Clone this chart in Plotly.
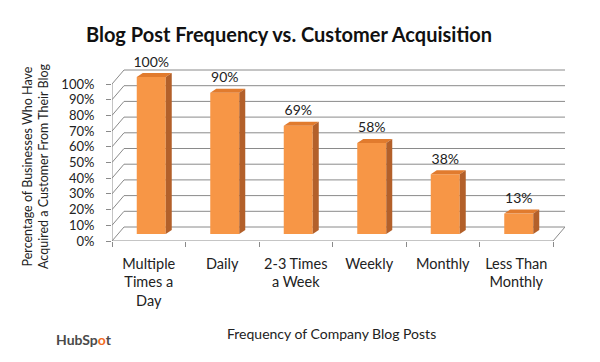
import plotly.graph_objects as go

# ---- data ----
categories = ["Multiple<br>Times a<br>Day", "Daily", "2-3 Times<br>a Week",
              "Weekly", "Monthly", "Less Than<br>Monthly"]
values = [100, 90, 69, 58, 38, 13]
y_ticks = [0, 10, 20, 30, 40, 50, 60, 70, 80, 90, 100]
y_tick_labels = [f"{v}%" for v in y_ticks]
title_text = "Blog Post Frequency vs. Customer Acquisition"
x_title = "Frequency of Company Blog Posts"
y_title = "Percentage of Businesses Who Have<br>Acquired a Customer From Their Blog"

# ---- geometry / style (page pixel coords; body has an 8px margin) ----
OFF = 8
W, H = 600 - 2 * OFF, 362 - 2 * OFF
PLOT_L, PLOT_R, PLOT_T, PLOT_B = 112, 565, 55, 241   # page coords
ML, MT = PLOT_L - OFF, PLOT_T - OFF
MR, MB = W - (PLOT_R - OFF), H - (PLOT_B - OFF)
PW, PH = PLOT_R - PLOT_L, PLOT_B - PLOT_T
PX_X = 73.5          # pixels per category
PX_Y = 1.57          # pixels per percent
DX, DY = 12 / PX_X, 14 / PX_Y          # depth of the 3D box
BX, BY = 2.5 / PX_X, 7 / PX_Y          # bar offset inside box
BW = 29 / PX_X
SX, SY = 6 / PX_X, 4 / PX_Y            # bar depth
FONT = "Lato"
GRID = "#8a8a8a"
FRONT, TOP, SIDE = "#F79646", "#E17B2E", "#B3602A"


def px(xp):
    return (xp - PLOT_L) / PW


def py(yp):
    return (PLOT_B - yp) / PH


n = len(categories)
xs = list(range(n))
x_lo, x_hi = -0.5, n - 0.5

fig = go.Figure()

# front faces
fig.add_trace(go.Bar(x=[x + BX for x in xs], y=values, base=BY, width=BW,
                     marker=dict(color=FRONT, line=dict(width=0)),
                     hoverinfo="skip"))

# top and side faces
tx, ty, sx, sy = [], [], [], []
for x, v in zip(xs, values):
    x0 = x + BX - BW / 2
    x1 = x + BX + BW / 2
    top = BY + v
    tx += [x0, x0 + SX, x1 + SX, x1, x0, None]
    ty += [top, top + SY, top + SY, top, top, None]
    sx += [x1, x1, x1 + SX, x1 + SX, x1, None]
    sy += [BY, top, top + SY, BY + SY, BY, None]
fig.add_trace(go.Scatter(x=tx, y=ty, fill="toself", fillcolor=TOP, mode="lines",
                         line=dict(width=0, color=TOP), hoverinfo="skip"))
fig.add_trace(go.Scatter(x=sx, y=sy, fill="toself", fillcolor=SIDE, mode="lines",
                         line=dict(width=0, color=SIDE), hoverinfo="skip"))

# value labels
fig.add_trace(go.Scatter(x=[x + BX for x in xs], y=[BY + v + 14 / PX_Y for v in values],
                         mode="text", text=[f"{v}%" for v in values],
                         textposition="middle center",
                         textfont=dict(family=FONT, size=14, color="#222"),
                         hoverinfo="skip", cliponaxis=False))

shapes = []
for v in y_ticks:
    shapes.append(dict(type="line", xref="x", yref="y", x0=x_lo + DX, y0=v + DY,
                       x1=x_hi + DX, y1=v + DY, line=dict(color=GRID, width=1), layer="below"))
    shapes.append(dict(type="line", xref="x", yref="y", x0=x_lo, y0=v,
                       x1=x_lo + DX, y1=v + DY, line=dict(color=GRID, width=1), layer="below"))
shapes.append(dict(type="line", xref="x", yref="y", x0=x_lo, y0=0, x1=x_lo, y1=y_ticks[-1],
                   line=dict(color=GRID, width=1), layer="below"))
shapes.append(dict(type="line", xref="x", yref="y", x0=x_lo, y0=0, x1=x_hi, y1=0,
                   line=dict(color=GRID, width=1), layer="below"))
shapes.append(dict(type="line", xref="x", yref="y", x0=x_hi, y0=0, x1=x_hi + DX, y1=DY,
                   line=dict(color=GRID, width=1), layer="below"))

fig.update_layout(
    width=W, height=H,
    margin=dict(l=ML, r=MR, t=MT, b=MB, pad=0),
    paper_bgcolor="white", plot_bgcolor="white",
    showlegend=False,
    shapes=shapes,
    font=dict(family=FONT, size=14, color="#222"),
    title=dict(text=f"<b>{title_text}</b>", x=(289 - OFF) / W, y=1 - (35 - OFF) / H,
               xanchor="center", yanchor="middle", xref="container", yref="container",
               font=dict(family=FONT, size=20, color="#111")),
    xaxis=dict(range=[x_lo, x_lo + PW / PX_X], tickmode="array", tickvals=xs,
               ticktext=categories, ticks="", showgrid=False, zeroline=False,
               showline=False, ticklabelstandoff=12,
               tickfont=dict(family=FONT, size=14.5, color="#222"),
               minor=dict(tickmode="array", tickvals=[x_lo + i for i in range(n + 1)],
                          ticks="outside", ticklen=5, tickcolor=GRID, tickwidth=1,
                          showgrid=False)),
    yaxis=dict(range=[0, PH / PX_Y], tickmode="array", tickvals=y_ticks,
               ticktext=y_tick_labels, ticks="outside", ticklen=5, tickcolor=GRID,
               showgrid=False, zeroline=False, showline=False, ticklabelstandoff=9,
               tickfont=dict(family=FONT, size=13, color="#222")),
    annotations=[
        dict(text=x_title, xref="paper", yref="paper", x=px(331), y=py(333),
             xanchor="center", yanchor="middle", showarrow=False,
             font=dict(family=FONT, size=14, color="#222")),
        dict(text=y_title, xref="paper", yref="paper", x=px(35), y=py(166),
             xanchor="center", yanchor="middle", showarrow=False,
             textangle=-90, font=dict(family=FONT, size=12.5, color="#222")),
        dict(text="<b>HubSp<span style='color:#F26B21'>o</span>t</b>", xref="paper", yref="paper",
             x=px(84), y=py(339), xanchor="center", yanchor="middle",
             showarrow=False, font=dict(family=FONT, size=14, color="#4a4a4a")),
    ],
)

fig.write_html("out.html")
